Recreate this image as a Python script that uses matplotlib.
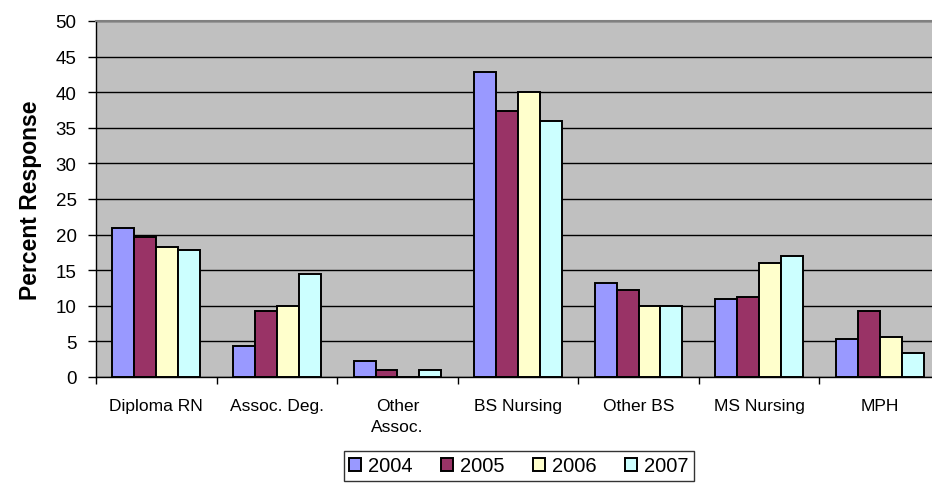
import matplotlib
matplotlib.use("Agg")
import matplotlib.pyplot as plt
import numpy as np
from matplotlib.ticker import FixedLocator

categories = ["Diploma RN", "Assoc. Deg.", "Other\nAssoc.", "BS Nursing", "Other BS", "MS Nursing", "MPH"]
years = ["2004", "2005", "2006", "2007"]
v2004 = [20.9, 4.4, 2.2, 42.9, 13.2, 11.0, 5.3]
v2005 = [19.7, 9.3, 1.0, 37.3, 12.2, 11.2, 9.3]
v2006 = [18.2, 10.0, 0.0, 40.0, 10.0, 16.0, 5.6]
v2007 = [17.9, 14.5, 1.0, 36.0, 10.0, 17.0, 3.4]
series = [v2004, v2005, v2006, v2007]
colors = ["#9999FF", "#993366", "#FFFFCC", "#CCFFFF"]
yticks = [0, 5, 10, 15, 20, 25, 30, 35, 40, 45, 50]

plt.rcParams['font.family'] = ['Liberation Sans', 'DejaVu Sans']

fig = plt.figure(figsize=(9.32, 4.85), dpi=100)
ax = fig.add_axes([96/932, (485-378)/485, (940-96)/932, 356/485])
ax.set_facecolor("#C0C0C0")

n = len(categories)
x = np.arange(n)
w = 1/5.5
for i, (vals, c, yr) in enumerate(zip(series, colors, years)):
    ax.bar(x + (i - 1.5) * w, vals, width=w, color=c, edgecolor="black",
           linewidth=1.4, label=yr, zorder=3)

ax.set_xlim(-0.5, n - 0.5)
ax.set_ylim(0, 50)
ax.set_yticks(yticks)
ax.yaxis.grid(True, color="black", linewidth=1.0, zorder=1)
ax.set_axisbelow(True)

ax.set_xticks(x)
ax.set_xticklabels(categories, fontsize=12.5, linespacing=1.55, va="top")
ax.xaxis.set_minor_locator(FixedLocator(np.arange(-0.5, n, 1.0)))
ax.tick_params(axis="x", which="major", length=0, pad=15)
ax.tick_params(axis="x", which="minor", length=5, width=1, color="black", direction="out")
ax.tick_params(axis="y", length=6, width=1, pad=8, labelsize=13.5, direction="out")

for s in ["top", "right"]:
    ax.spines[s].set_color("#808080")
    ax.spines[s].set_linewidth(1.5)
ax.spines["left"].set_color("black")
ax.spines["bottom"].set_color("black")
ax.spines["left"].set_linewidth(1.0)
ax.spines["bottom"].set_linewidth(1.0)

ax.set_ylabel("Percent Response", fontsize=16.5, fontweight="bold", labelpad=10)

leg = fig.legend(loc="center", bbox_to_anchor=(519/932, 1 - 467/485), ncol=4,
                 fontsize=14.5, frameon=True, fancybox=False, edgecolor="black",
                 handlelength=0.6, handleheight=0.6, handletextpad=0.35,
                 columnspacing=1.4, borderpad=0.25, borderaxespad=0)
leg.get_frame().set_linewidth(1.0)

fig.savefig("out.png", dpi=100)
